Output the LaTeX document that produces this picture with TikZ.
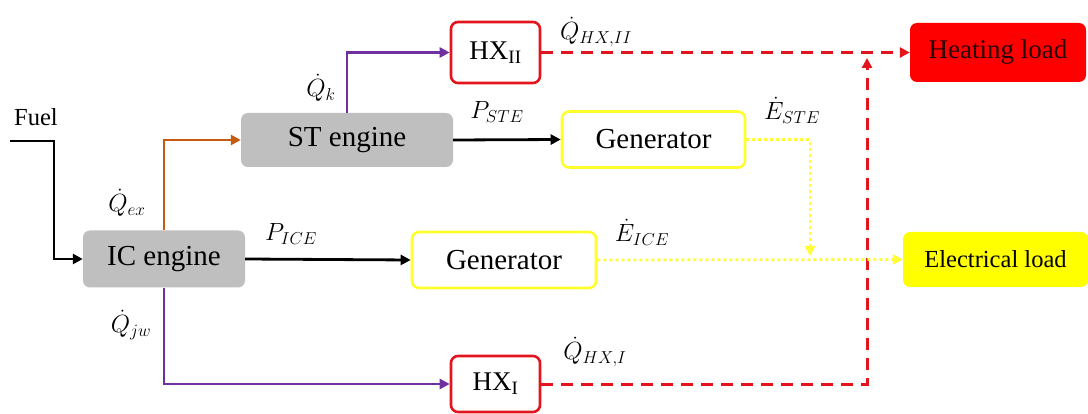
\documentclass[tikz,border=0pt]{standalone}
\usepackage{fontspec}
\setmainfont{Liberation Serif}
\usetikzlibrary{arrows.meta,calc}
\definecolor{boxgray}{HTML}{BFBFBF}
\definecolor{hxred}{HTML}{E3141E}
\definecolor{heatred}{HTML}{FF0000}
\definecolor{genyel}{HTML}{FFFF2A}
\definecolor{elecyel}{HTML}{FFFF00}
\definecolor{dotyel}{HTML}{FFFF33}
\definecolor{purp}{HTML}{7030A0}
\definecolor{orng}{HTML}{C55A11}
\tikzset{
  box/.style={rounded corners=7pt, minimum width=#1, inner sep=0pt, align=center},
  engbox/.style={box=#1, fill=boxgray, minimum height=56pt, font=\fontsize{29}{33}\selectfont},
  genbox/.style={box=#1, draw=genyel, line width=2.6pt, fill=white, minimum height=56pt, font=\fontsize{29}{33}\selectfont},
  hxbox/.style={box=#1, draw=hxred, line width=2.6pt, fill=white, font=\fontsize{27}{31}\selectfont},
  lab/.style={font=\fontsize{25}{29}\selectfont, inner sep=0pt},
  arr/.style={line width=2.8pt, -{Triangle[length=10pt,width=10pt]}},
  redflow/.style={arr, color=hxred, dash pattern=on 12pt off 8pt, line width=3pt},
  yelflow/.style={arr, color=dotyel, dash pattern=on 3pt off 3pt, line width=2.8pt},
}
\begin{document}
\begin{tikzpicture}[x=1pt,y=-1pt]
\useasboundingbox (0,0) rectangle (1088,414);
% nodes
\node[hxbox=89pt, minimum height=61pt] (hx2) at (495.5,52.5) {HX\textsubscript{II}};
\node[hxbox=89pt, minimum height=56pt] (hx1) at (495.5,384) {HX\textsubscript{I}};
\node[engbox=212pt, minimum height=54pt] (st) at (347,140) {ST engine};
\node[engbox=162pt, minimum height=57pt] (ic) at (164,259) {IC engine};
\node[genbox=183pt] (gen1) at (653.5,139.5) {Generator};
\node[genbox=184pt] (gen2) at (504,260) {Generator};
\node[box=176pt, fill=heatred, minimum height=59pt, font=\fontsize{27}{31}\selectfont, text=black!85!red] (heat) at (998,52.5) {Heating load};
\node[box=185pt, fill=elecyel, minimum height=55pt, font=\fontsize{24.5}{28}\selectfont] (elec) at (995.5,259.5) {Electrical load};
% free coordinates
\coordinate (fuelstart) at (10,141);
\coordinate (jh) at (867,58);
\coordinate (je) at (810,256);
% connectors
\draw[arr] (fuelstart) -- ++(44,0) |- (ic.west);
\draw[arr, color=orng] (ic.north) |- (st.west);
\draw[arr, color=purp] (st.north) |- (hx2.west);
\draw[arr, color=purp] (ic.south) |- (hx1.west);
\draw[arr] (st.east) -- (gen1.west);
\draw[arr] (ic.east) -- (gen2.west);
\draw[redflow] (hx2.east) -- (heat.west);
\draw[redflow] (hx1.east) -| (jh);
\draw[yelflow] (gen1.east) -| (je);
\draw[yelflow] (gen2.east) -- (elec.west);
% labels
\node[font=\fontsize{24.5}{28}\selectfont, inner sep=0pt] (fuel) at (36,117) {Fuel};
\node[lab] (lqex) at (127,203) {$\dot{Q}_{ex}$};
\node[lab] (lqk) at (321,88) {$\dot{Q}_{k}$};
\node[lab] (lpste) at (497,112) {$P_{STE}$};
\node[lab] (lqhx2) at (596,32) {$\dot{Q}_{HX,II}$};
\node[lab] (leste) at (792,110) {$\dot{E}_{STE}$};
\node[lab] (lpice) at (291,234) {$P_{ICE}$};
\node[lab] (leice) at (642,232) {$\dot{E}_{ICE}$};
\node[lab] (lqjw) at (131,325) {$\dot{Q}_{jw}$};
\node[lab] (lqhx1) at (595,352) {$\dot{Q}_{HX,I}$};
\end{tikzpicture}
\end{document}
